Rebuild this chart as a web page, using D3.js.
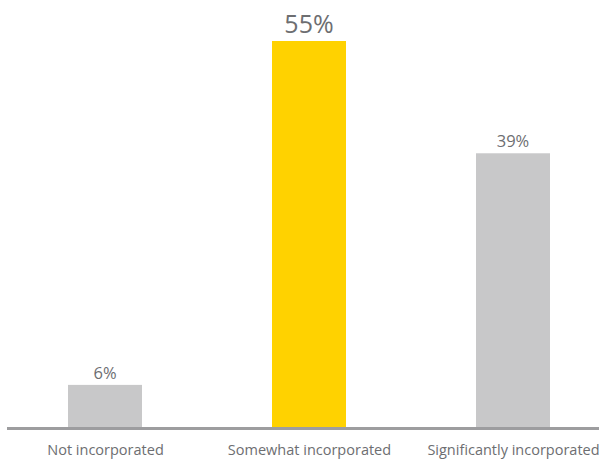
<!DOCTYPE html>
<html>
<head>
<meta charset="utf-8">
<script src="https://cdn.jsdelivr.net/npm/d3@7"></script>
<style>
  html, body { margin: 0; padding: 0; background: #fff; }
  svg { display: block; }
  text { font-family: "Open Sans", "Noto Sans", sans-serif; }
</style>
</head>
<body>
<svg id="chart" width="599" height="459"></svg>
<script>
// Share of respondents by how far the practice is incorporated
const categories = ["Not incorporated", "Somewhat incorporated", "Significantly incorporated"];
const values = [6, 55, 39];
const highlight = [false, true, false];

const svg = d3.select("#chart");
const baseY = 427;

const x = d3.scalePoint().domain(categories).range([3, 615]).padding(0.5);
const y = d3.scaleLinear().domain([0, 55]).range([baseY, 41]);
const barW = 74;

// bars
svg.selectAll("rect.bar")
  .data(categories)
  .join("rect")
  .attr("class", "bar")
  .attr("x", d => x(d) - barW / 2)
  .attr("y", (d, i) => y(values[i]))
  .attr("width", barW)
  .attr("height", (d, i) => baseY - y(values[i]))
  .attr("fill", (d, i) => highlight[i] ? "#FFD200" : "#C8C8C9");

// value labels
svg.selectAll("text.val")
  .data(categories)
  .join("text")
  .attr("class", "val")
  .attr("x", d => x(d))
  .attr("y", (d, i) => y(values[i]) - (highlight[i] ? 8 : 6))
  .attr("text-anchor", "middle")
  .attr("fill", "#6d6e71")
  .attr("font-size", (d, i) => highlight[i] ? 25 : 16.5)
  .text((d, i) => values[i] + "%");

// baseline axis
const axis = d3.axisBottom(x).tickSize(0).tickPadding(16);
const g = svg.append("g").attr("transform", `translate(0,${baseY + 1.5})`).call(axis);
g.select(".domain").remove();
g.append("line")
  .attr("x1", 7).attr("x2", 599).attr("y1", 0).attr("y2", 0)
  .attr("stroke", "#9d9d9f").attr("stroke-width", 3);
g.selectAll(".tick text")
  .attr("fill", "#6d6e71")
  .attr("font-size", 14.5)
  .style("font-family", "\"Open Sans\", \"Noto Sans\", sans-serif");
</script>
</body>
</html>
